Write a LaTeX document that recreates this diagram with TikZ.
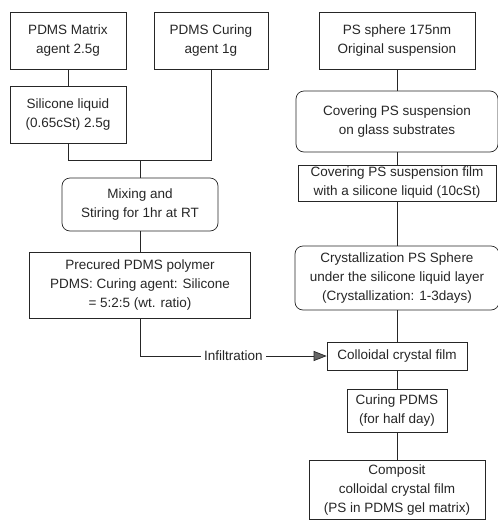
\documentclass[tikz,border=0pt]{standalone}
\usepackage{fontspec}
\setmainfont{Liberation Sans}
\usetikzlibrary{arrows.meta}
\tikzstyle{fBox} = [rectangle, draw=black!85, line width=0.7pt, align=center, inner sep=0pt, text=black!85, font=\fontsize{13.5}{19}\selectfont]
\tikzstyle{fRound} = [fBox, rounded corners=8pt]
\tikzstyle{fLine} = [draw=black!85, line width=0.7pt]
\tikzstyle{fArrow} = [fLine, -{Triangle[length=13pt, width=10pt, fill=black!60]}]

\begin{document}
\begin{tikzpicture}[node distance=60pt]
    \useasboundingbox (-68pt,40.5pt) rectangle (430pt,-479.5pt);
    % left column: PDMS
    \node (matrix) [fBox, minimum width=116pt, minimum height=57pt] {PDMS Matrix\\agent 2.5g};
    \node (curing) [fBox, right of=matrix, xshift=83pt, minimum width=114pt, minimum height=57pt] {PDMS Curing\\agent 1g};
    \node (silicone) [fBox, below of=matrix, yshift=-14.5pt, minimum width=116pt, minimum height=57pt] {Silicone liquid\\(0.65cSt) 2.5g};
    \node (mixing) [fRound, below of=silicone, xshift=72pt, yshift=-29.5pt, minimum width=156pt, minimum height=53pt] {Mixing and\\Stiring for 1hr at RT};
    \path (mixing) ++(0,44.5pt) coordinate (join);
    \node (precured) [fBox, below of=mixing, yshift=-20.5pt, minimum width=221pt, minimum height=66pt] {Precured PDMS polymer\\PDMS: Curing agent: Silicone\\= 5:2:5 (wt. ratio)};
    % right column: PS spheres
    \node (sphere) [fBox, right of=curing, xshift=126pt, minimum width=156pt, minimum height=57pt] {PS sphere 175nm\\Original suspension};
    \node (covering) [fRound, below of=sphere, yshift=-21pt, minimum width=202pt, minimum height=61pt] {Covering PS suspension\\on glass substrates};
    \node (film) [fBox, below of=covering, yshift=-1.5pt, minimum width=198pt, minimum height=36pt] {Covering PS suspension film\\with a silicone liquid (10cSt)};
    \node (crystal) [fRound, below of=film, yshift=-35pt, minimum width=204pt, minimum height=64pt] {Crystallization PS Sphere\\under the silicone liquid layer\\(Crystallization: 1-3days)};
    \node (colloid) [fBox, below of=crystal, yshift=-18pt, minimum width=140pt, minimum height=28pt] {Colloidal crystal film};
    \node (cure) [fBox, below of=colloid, yshift=5.5pt, minimum width=100pt, minimum height=43pt] {Curing PDMS\\(for half day)};
    \node (composit) [fBox, below of=cure, yshift=-19.5pt, minimum width=176pt, minimum height=59pt] {Composit\\colloidal crystal film\\(PS in PDMS gel matrix)};

    \draw [fLine] (matrix) -- (silicone);
    \draw [fLine] (silicone) |- (join);
    \draw [fLine] (curing) |- (join);
    \draw [fLine] (join) -- (mixing);
    \draw [fLine] (mixing) -- (precured);
    \draw [fArrow] (precured) |- node[pos=0.75, fill=white, inner sep=3pt, text=black!85, font=\fontsize{13.5}{19}\selectfont] {Infiltration} (colloid);
    \draw [fLine] (sphere) -- (covering);
    \draw [fLine] (covering) -- (film);
    \draw [fLine] (film) -- (crystal);
    \draw [fLine] (crystal) -- (colloid);
    \draw [fLine] (colloid) -- (cure);
    \draw [fLine] (cure) -- (composit);
\end{tikzpicture}
\end{document}
